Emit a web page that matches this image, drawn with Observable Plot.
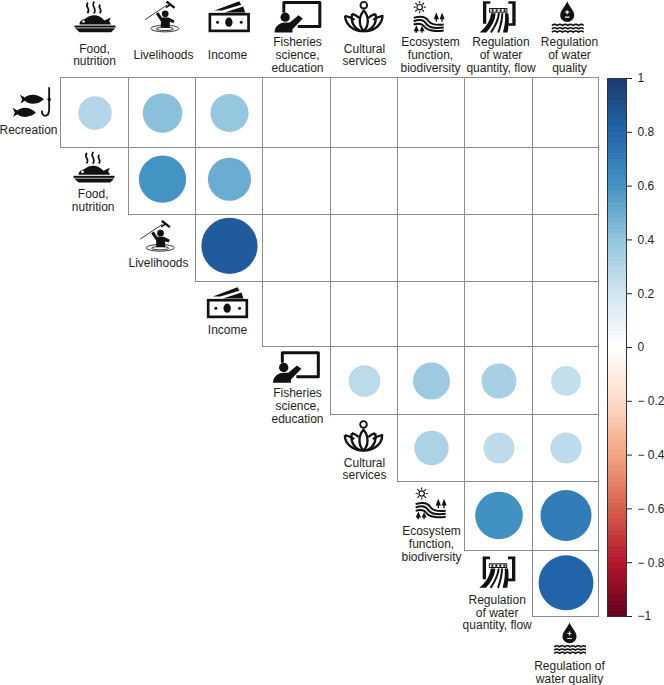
<!DOCTYPE html>
<html><head><meta charset="utf-8">
<style>html,body{margin:0;padding:0;background:#fff}#c{position:relative;width:664px;height:685px}#c svg{position:absolute;left:0;top:0;background:transparent}</style>
<script src="https://cdn.jsdelivr.net/npm/d3@7"></script>
<script src="https://cdn.jsdelivr.net/npm/@observablehq/plot@0.6"></script>
</head><body><div id="c"></div>
<script>
// ---- data ----
const categories = ["rec","food","live","inc","fish","cult","eco","qty","qual"];
const topLabels = ["","Food,\nnutrition","Livelihoods","Income","Fisheries\nscience,\neducation","Cultural\nservices","Ecosystem\nfunction,\nbiodiversity","Regulation\nof water\nquantity, flow","Regulation\nof water\nquality"];
const sideLabels = ["Recreation","Food,\nnutrition","Livelihoods","Income","Fisheries\nscience,\neducation","Cultural\nservices","Ecosystem\nfunction,\nbiodiversity","Regulation\nof water\nquantity, flow","Regulation of\nwater quality"];
const pairRow = ["rec","rec","rec","food","food","live","fish","fish","fish","fish","cult","cult","cult","eco","eco","qty"];
const pairCol = ["food","live","inc","live","inc","inc","cult","eco","qty","qual","eco","qty","qual","qty","qual","qual"];
const corr = [0.30,0.42,0.39,0.60,0.50,0.85,0.27,0.37,0.33,0.24,0.32,0.26,0.26,0.61,0.70,0.81];
const legendTicks = [1,0.8,0.6,0.4,0.2,0,-0.2,-0.4,-0.6,-0.8,-1];
const palette = ["#67001F","#B2182B","#D6604D","#F4A582","#FDDBC7","#FFFFFF","#D1E5F0","#92C5DE","#4393C3","#2166AC","#1B3A6F"];
const paletteDomain = [-1,-0.8,-0.6,-0.4,-0.2,0,0.2,0.4,0.6,0.8,1];

// ---- layout: scale ranges and pixel nudges around the diagonal ----
const font = "'Liberation Sans', Arial, sans-serif", ink = "#231f20";
const colEdges = [-7,60.5,128.5,195.5,262.5,330.5,397.5,464.5,532.5,598.5];
const rowEdges = [77.5,147.5,214.5,281.5,346.5,414.5,481.5,550.5,616.5,683];
const dotRowDy = [0,-2.3,-2.7,-1.5,0,-.5,-1,-1.2];
const topDx   = [0,-.5,1,-2,.5,0,-1,2,3.5];
const topIcoDx= [0,.5,-.3,-.3,1,-.7,-2,-1.2,1.2];
const sideTxt = [[1.25,16.8],[-1.8,19],[-4,14.7],[-2,15],[.5,25.1],[0,20.5],[0,27.6],[-1.8,28.5],[3.5,22.25]];
const sideIco = [[5.25,-10.8],[-.5,-14],[-5,-12],[-2,-11.3],[-.5,-13.5],[-1,-12],[0,-13],[-1.5,-11.5],[3.5,-11.75]];

// ---- icon glyphs ----
const waves = (x0,x1,y)=>{let d=`M${x0} ${y}`;for(let x=x0;x<x1;x+=16)d+=` q8 -7 16 0`;return d;};
const icons = {
 rec:{vb:[35,255,130,100],g:`<path d="M150 260V325C150 353 127 351 128 330" fill="none" stroke="#111" stroke-width="5.5"/><circle cx="150" cy="297" r="5" fill="#111"/>
  <path d="M62 283L77 291C90 278 118 280 134 296C118 312 90 314 77 301L64 309L69 296Z" fill="#111"/><path d="M40 322L55 330C68 317 94 319 110 336C94 352 68 353 55 341L42 349L47 336Z" fill="#111"/>`},
 food:{vb:[220,0,130,100],g:`<path d="M262 6q-6 9 0 16q5 8 -1 16M281 3q-6 10 0 18q5 9 -1 18M299 12q-5 7 0 13q4 6 -1 13" fill="none" stroke="#111" stroke-width="5"/>
  <path d="M237 72C237 58 250 58 258 52C272 40 298 42 312 60L331 51L326 62L332 72Z" fill="#111"/><circle cx="249" cy="63" r="4" fill="#fff"/><rect x="222" y="75" width="123" height="6" fill="#111"/><path d="M224 83H344L332 95H237Z" fill="#111"/>`},
 live:{vb:[430,0,110,100],g:`<path d="M433 58L500 13" stroke="#111" stroke-width="2.5"/><path d="M498 3L522 22" stroke="#111" stroke-width="7"/><path d="M510 12L496 21" stroke="#111" stroke-width="5"/>
  <circle cx="494" cy="40" r="10" fill="#111"/><path d="M466 40L474 35L484 51H504L522 60L518 68L508 64V82H481V62Z" fill="#111"/>
  <ellipse cx="493" cy="84" rx="42" ry="10" fill="none" stroke="#111" stroke-width="2.5"/><ellipse cx="493" cy="85" rx="26" ry="5" fill="none" stroke="#111" stroke-width="2.5"/>`},
 inc:{vb:[622,0,128,100],g:`<rect x="628" y="41" width="116" height="50" fill="#fff" stroke="#111" stroke-width="8"/><ellipse cx="685" cy="65" rx="11" ry="14" fill="#111"/><circle cx="651" cy="65" r="4.5" fill="#111"/><circle cx="722" cy="65" r="4.5" fill="#111"/>
  <path d="M642 30L716 2L722 13L664 30Z M672 36L728 18L734 36Z" fill="#111"/>`},
 fish:{vb:[820,0,145,100],g:`<path d="M850 36V6H958V78H892" fill="none" stroke="#111" stroke-width="9" stroke-linejoin="round"/><circle cx="854" cy="50" r="14" fill="#111"/>
  <path d="M822 96C823 76 838 66 855 66H868L894 44L907 54L876 86V96Z" fill="#111"/>`},
 cult:{vb:[35,0,130,100],g:`<circle cx="100" cy="14" r="10" fill="none" stroke="#111" stroke-width="5.5"/><g fill="none" stroke="#111" stroke-width="7" stroke-linejoin="round"><path d="M100 30C84 48 84 76 100 92C116 76 116 48 100 30Z"/>
  <path d="M44 46C44 70 66 92 100 92C134 92 156 70 156 46C145 48 135 52 128 58"/><path d="M44 46C55 48 65 52 72 58"/><path d="M65 40C60 65 72 84 88 90M135 40C140 65 128 84 112 90M65 40C72 42 80 46 86 52M135 40C128 42 120 46 114 52"/></g>`},
 eco:{vb:[245,0,105,100],g:`<circle cx="268" cy="20" r="8" fill="none" stroke="#111" stroke-width="3.5"/><path d="M268 2V8M268 32V38M250 20H256M280 20H286M255 7L260 12M276 28L281 33M281 7L276 12M260 28L255 33" stroke="#111" stroke-width="3.5"/>
  <g fill="none" stroke="#111" stroke-width="6"><path d="M250 52C275 44 288 50 295 62C302 72 315 74 340 72"/><path d="M250 62C272 54 282 60 288 70C296 82 315 84 340 81"/><path d="M282 78C290 90 315 94 340 90"/><path d="M250 72C262 68 274 68 282 78"/></g>
  <path d="M318 36L310 56H316V64H320V56H326ZM335 36L328 56H333V64H337V56H343ZM258 74L250 92H255V97H260V92H266ZM275 76L268 92H273V97H277V92H283Z" fill="#111"/>`},
 qty:{vb:[445,0,115,100],g:`<path d="M458 2H480V10H468V70H458ZM534 2H556V76H534V68H546V10H534Z" fill="#111"/><rect x="478" y="24" width="52" height="11" fill="none" stroke="#111" stroke-width="3"/>
  <path d="M484 26h6v7h-6zM496 26h6v7h-6zM508 26h6v7h-6zM520 26h6v7h-6z" fill="#111"/><path d="M482 38H496C494 62 482 80 468 96H448C466 80 480 62 482 38Z" fill="#111"/><g fill="none" stroke="#111" stroke-width="6"><path d="M506 38C504 62 494 78 482 96"/><path d="M516 38C516 62 510 78 504 96"/></g><path d="M524 38H534C538 62 534 80 532 96H518C522 78 526 62 524 38Z" fill="#111"/>`},
 qual:{vb:[660,0,100,100],g:`<path d="M710 2C704 18 689 30 689 44C689 56 699 64 710 64C721 64 731 56 731 44C731 30 716 18 710 2Z" fill="#111"/><path d="M710 29V41M704 35H716M703 50H717" stroke="#fff" stroke-width="3.5"/>
  <path d="${waves(664,752,75)} ${waves(664,752,85)} ${waves(664,752,95)}" fill="none" stroke="#111" stroke-width="4.5"/>`}
};
const iconSrc = k=>{const [x,y,w,h]=icons[k].vb;return "data:image/svg+xml,"+encodeURIComponent(`<svg xmlns="http://www.w3.org/2000/svg" width="${w}" height="${h}" viewBox="${x} ${y} ${w} ${h}">${icons[k].g}</svg>`);};
const iconMark = (i,opts)=>{const k=categories[i];return Plot.image([i],{src:iconSrc(k),width:icons[k].vb[2]/3,height:icons[k].vb[3]/3,...opts});};

// ---- tables built from the arrays ----
const idx = k=>categories.indexOf(k);
const pairs = corr.map((v,i)=>({row:idx(pairRow[i]),col:idx(pairCol[i]),v}));
const grid = [];
categories.forEach((r,i)=>categories.forEach((c,j)=>{if(i<8&&j>i)grid.push({row:i,col:j});}));
const colorScale = {type:"linear",domain:paletteDomain,range:palette,interpolate:"rgb"};

const labelMarks = [];
categories.forEach((k,i)=>{
  if(i>0){
    labelMarks.push(Plot.text([i],{x:d=>d+.5,frameAnchor:"top",dy:54.5,dx:topDx[i],text:()=>topLabels[i],lineAnchor:"middle",lineHeight:1.06,fontSize:12,fill:ink}));
    labelMarks.push(iconMark(i,{x:d=>d+.5,frameAnchor:"top",dy:16.7,dx:topIcoDx[i]}));
  }
  labelMarks.push(Plot.text([i],{x:d=>d+.5,y:d=>d+.5,dx:sideTxt[i][0],dy:sideTxt[i][1],text:()=>sideLabels[i],lineAnchor:"middle",lineHeight:1.06,fontSize:12,fill:ink}));
  labelMarks.push(iconMark(i,{x:d=>d+.5,y:d=>d+.5,dx:sideIco[i][0],dy:sideIco[i][1]}));
});
const dotMarks = dotRowDy.map((dy,r)=>Plot.dot(pairs.filter(d=>d.row===r),{x:d=>d.col+.5,y:d=>d.row+.5,r:"v",fill:"v",stroke:"none",dy}));

const main = Plot.plot({
  width:664,height:685,margin:0,style:{fontFamily:font,background:"transparent"},
  x:{type:"linear",domain:d3.range(10),range:colEdges,axis:null},
  y:{type:"linear",domain:d3.range(10),range:rowEdges,axis:null},
  r:{type:"sqrt",domain:[0,1],range:[0,30.5]},
  color:colorScale,
  marks:[
    Plot.rect(grid,{x1:"col",x2:d=>d.col+1,y1:"row",y2:d=>d.row+1,fill:"#fff",stroke:"#8c8c8c",strokeWidth:1}),
    ...dotMarks,
    ...labelMarks
  ]
});

const tickText = v=>v<0?(v===-1?"−1":"− "+Math.abs(v)):String(v);
const bar = Plot.plot({
  width:664,height:685,marginLeft:607,marginRight:38,marginTop:78,marginBottom:69,
  style:{fontFamily:font,background:"transparent",fontSize:"12px",color:ink},
  y:{domain:[-1,1],axis:null},
  color:colorScale,
  marks:[
    Plot.rect(d3.range(100),{y1:i=>-1+i*0.02,y2:i=>-1+(i+1)*0.02,fill:i=>-1+(i+0.5)*0.02,shapeRendering:"crispEdges"}),
    Plot.frame({stroke:"#333"}),
    Plot.axisY({anchor:"right",ticks:legendTicks,tickFormat:tickText,tickSize:5,tickPadding:6,label:null,fontSize:12,textAnchor:"start"})
  ]
});
document.getElementById("c").append(main,bar);
</script></body></html>
